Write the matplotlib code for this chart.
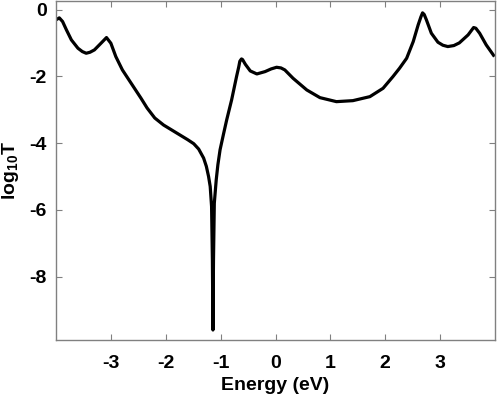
import matplotlib
matplotlib.use("Agg")
import matplotlib.pyplot as plt

energy = [-4.0, -3.94, -3.88, -3.81, -3.72, -3.6, -3.52, -3.45, -3.38, -3.3, -3.18, -3.08,
          -3.0, -2.91, -2.79, -2.63, -2.45, -2.34, -2.2, -2.04, -1.88, -1.74,
          -1.6, -1.49, -1.4, -1.31, -1.26, -1.22, -1.19, -1.165, -1.15, -1.14,
          -1.13, -1.115, -1.08, -1.05, -1.01, -0.95, -0.89, -0.8, -0.71, -0.67,
          -0.65, -0.62, -0.6, -0.55, -0.46, -0.34, -0.19, -0.08, 0.02, 0.1,
          0.17, 0.32, 0.57, 0.81, 1.11, 1.41, 1.72, 1.96, 2.14, 2.26,
          2.39, 2.51, 2.6, 2.65, 2.68, 2.71, 2.75, 2.84, 2.96, 3.05, 3.14,
          3.25, 3.35, 3.51, 3.61, 3.65, 3.72, 3.84, 3.99]
log10T = [-0.31, -0.25, -0.36, -0.61, -0.91, -1.16, -1.26, -1.31, -1.28, -1.21, -1.01, -0.84,
          -1.01, -1.41, -1.81, -2.21, -2.66, -2.95, -3.25, -3.46, -3.62, -3.76,
          -3.9, -4.02, -4.18, -4.45, -4.7, -5.0, -5.3, -5.9, -7.5, -9.6,
          -7.5, -5.8, -5.1, -4.65, -4.2, -3.75, -3.31, -2.71, -2.01, -1.72,
          -1.55, -1.48, -1.5, -1.64, -1.84, -1.93, -1.86, -1.78, -1.73, -1.75,
          -1.81, -2.06, -2.41, -2.64, -2.76, -2.73, -2.61, -2.36, -2.01, -1.76,
          -1.46, -0.96, -0.46, -0.22, -0.1, -0.15, -0.31, -0.71, -0.98, -1.07, -1.11,
          -1.08, -1.0, -0.76, -0.54, -0.56, -0.71, -1.06, -1.41]

xticks = [-3, -2, -1, 0, 1, 2, 3]
yticks = [-8, -6, -4, -2, 0]

plt.rcParams['font.family'] = ['Liberation Sans', 'DejaVu Sans']
plt.rcParams['mathtext.fontset'] = 'custom'
plt.rcParams['mathtext.rm'] = 'Liberation Sans:bold'
plt.rcParams['mathtext.it'] = 'Liberation Sans:bold'
plt.rcParams['mathtext.bf'] = 'Liberation Sans:bold'
plt.rcParams['mathtext.default'] = 'rm'

fig = plt.figure(figsize=(4.98, 3.97), dpi=100)
ax = fig.add_axes([56/498, 57/397, (495-56)/498, (340-0.5)/397])
ax.plot(energy, log10T, color='black', lw=2.3, solid_joinstyle='round',
        solid_capstyle='butt')
ax.set_xlim(-4, 4)
ax.set_ylim(-9.9, 0.27)
ax.set_xticks(xticks)
ax.set_xticklabels([str(t) for t in xticks])
ax.set_yticks(yticks)
ax.set_yticklabels([str(t) for t in yticks])
for s in ax.spines.values():
    s.set_color('#808080')
    s.set_linewidth(1.0)
ax.tick_params(direction='in', top=True, right=True, length=4, width=0.8,
               color='#808080', labelsize=14)
ax.tick_params(axis='x', pad=10.5)
ax.tick_params(axis='y', pad=6.5)
for lab in ax.get_xticklabels() + ax.get_yticklabels():
    lab.set_fontweight('bold')
ax.set_xlabel('Energy (eV)', fontsize=14, fontweight='bold', labelpad=4)
ax.set_ylabel('log$_{10}$T', fontsize=14, fontweight='bold', labelpad=6)
fig.savefig('out.png', dpi=100)
